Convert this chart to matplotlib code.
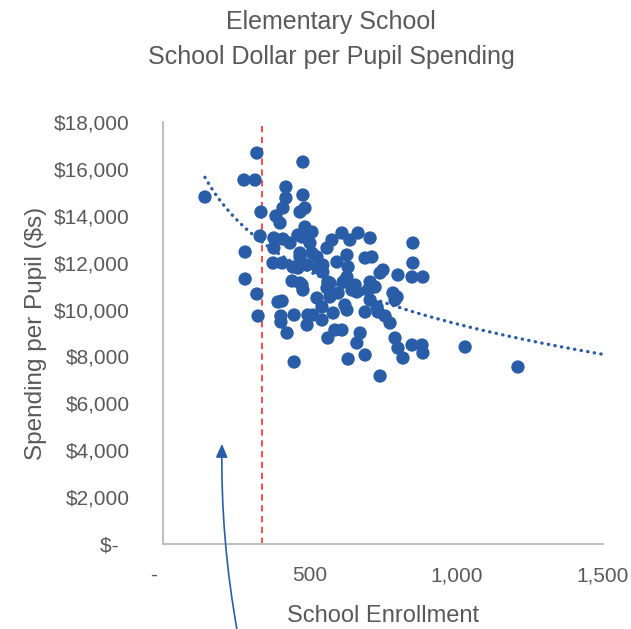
import numpy as np
import matplotlib
matplotlib.use("Agg")
import matplotlib.pyplot as plt
from matplotlib.ticker import FuncFormatter

plt.rcParams['font.family'] = ['Liberation Sans Narrow', 'Liberation Sans', 'DejaVu Sans']

# School enrollment (x) and spending per pupil (y)
enrollment = [143, 276, 314, 320, 280, 280, 320, 324, 334, 331,
              419, 419, 409, 385, 399, 378, 409, 433, 378, 375,
              406, 443, 392, 406, 402, 402, 423, 447, 440, 447,
              460, 477, 477, 484, 467, 484, 508, 474, 501, 467,
              610, 665, 706, 576, 637, 559, 508, 467, 525, 627,
              689, 712, 491, 545, 593, 631, 750, 801, 852, 852,
              849, 886, 545, 528, 627, 474, 477, 569, 614, 655,
              706, 740, 644, 699, 784, 525, 569, 597, 620, 706,
              791, 730, 511, 580, 627, 689, 733, 757, 542, 491,
              586, 562, 610, 672, 661, 774, 791, 801, 849, 883,
              818, 886, 1030, 631, 689, 740, 1210, 562, 798, 542,
              494, 467, 559, 661, 723, 460]
spending = [14800, 15525, 15525, 16676, 12454, 11302, 10663, 9724, 14160, 13136,
            15226, 14757, 14330, 13989, 13691, 13051, 13008, 12838, 12624, 11985,
            11985, 11814, 10321, 10364, 9724, 9468, 8999, 7762, 11217, 9767,
            13179, 16292, 14885, 14330, 14160, 13520, 13307, 13094, 12838, 12411,
            13264, 13264, 13051, 12966, 12966, 12624, 12411, 12241, 12241, 12326,
            12198, 12241, 11899, 11899, 12027, 11814, 11686, 11473, 12838, 11985,
            11388, 11388, 11601, 11771, 11388, 11046, 10833, 11132, 11174, 11046,
            11174, 11558, 10833, 10833, 10705, 10492, 10535, 10705, 10193, 10407,
            10407, 10108, 9767, 9852, 9980, 9895, 9895, 9724, 9554, 9340,
            9127, 8786, 9127, 8999, 8573, 9426, 8786, 8359, 8487, 8487,
            7933, 8146, 8402, 7890, 8061, 7165, 7549, 11174, 10535, 10108,
            9767, 11132, 10918, 10748, 10961, 11771]
threshold_enrollment = 337
trend_end = 1500
arrow_tip = (201, 4390)

x_ticks = [0, 500, 1000, 1500]
y_ticks = list(range(0, 18001, 2000))

blue = '#2A5DA8'
gray_text = '#595959'

fig = plt.figure(figsize=(6.31, 6.29), dpi=100)
ax = fig.add_axes([163/631, 1-544/629, 440/631, 422/629])

x = np.array(enrollment, dtype=float)
y = np.array(spending, dtype=float)
ax.scatter(x, y, s=92, color=blue, edgecolors='none', zorder=3)

# logarithmic trendline fitted to data
b, a = np.polyfit(np.log(x), y, 1)
xs = np.linspace(x.min(), trend_end, 300)
ax.plot(xs, a + b*np.log(xs), color=blue, lw=2.4, linestyle=(0, (0.1, 1.9)),
        dash_capstyle='round', zorder=4)

ax.axvline(threshold_enrollment, color='#FF3B3B', lw=1.3, linestyle=(0, (3.5, 2.5)), zorder=2)

ax.set_xlim(0, 1500)
ax.set_ylim(0, 18000)
ax.set_xticks(x_ticks)
ax.set_yticks(y_ticks)
ax.xaxis.set_major_formatter(FuncFormatter(lambda v, p: '-   ' if v == 0 else f'{int(v):,}'))
ax.yaxis.set_major_formatter(FuncFormatter(lambda v, p: '$-  ' if v == 0 else f'${int(v):,}'))
ax.tick_params(axis='both', length=0, labelsize=15, colors=gray_text)
ax.tick_params(axis='y', pad=24)
ax.tick_params(axis='x', pad=16)

for s in ['top', 'right']:
    ax.spines[s].set_visible(False)
for s in ['left', 'bottom']:
    ax.spines[s].set_color('#BFBFBF')
    ax.spines[s].set_linewidth(1.5)

ax.set_xlabel('School Enrollment', fontsize=17, color=gray_text, labelpad=14)
ax.set_ylabel('Spending per Pupil ($s)', fontsize=17.5, color=gray_text, labelpad=5)

fig.text(331/631, 1-22/629, 'Elementary School', ha='center', va='center',
         fontsize=18, color=gray_text)
fig.text(331/631, 1-57/629, 'School Dollar per Pupil Spending', ha='center', va='center',
         fontsize=18, color=gray_text)

ax.annotate('', xy=arrow_tip, xycoords='data',
            xytext=(238/631, -0.01), textcoords='figure fraction',
            arrowprops=dict(arrowstyle='-|>,head_length=0.8,head_width=0.35',
                            color='#2A5DA8', lw=1.2,
                            connectionstyle='arc3,rad=-0.05'),
            annotation_clip=False)

fig.savefig('out.png', dpi=100)
